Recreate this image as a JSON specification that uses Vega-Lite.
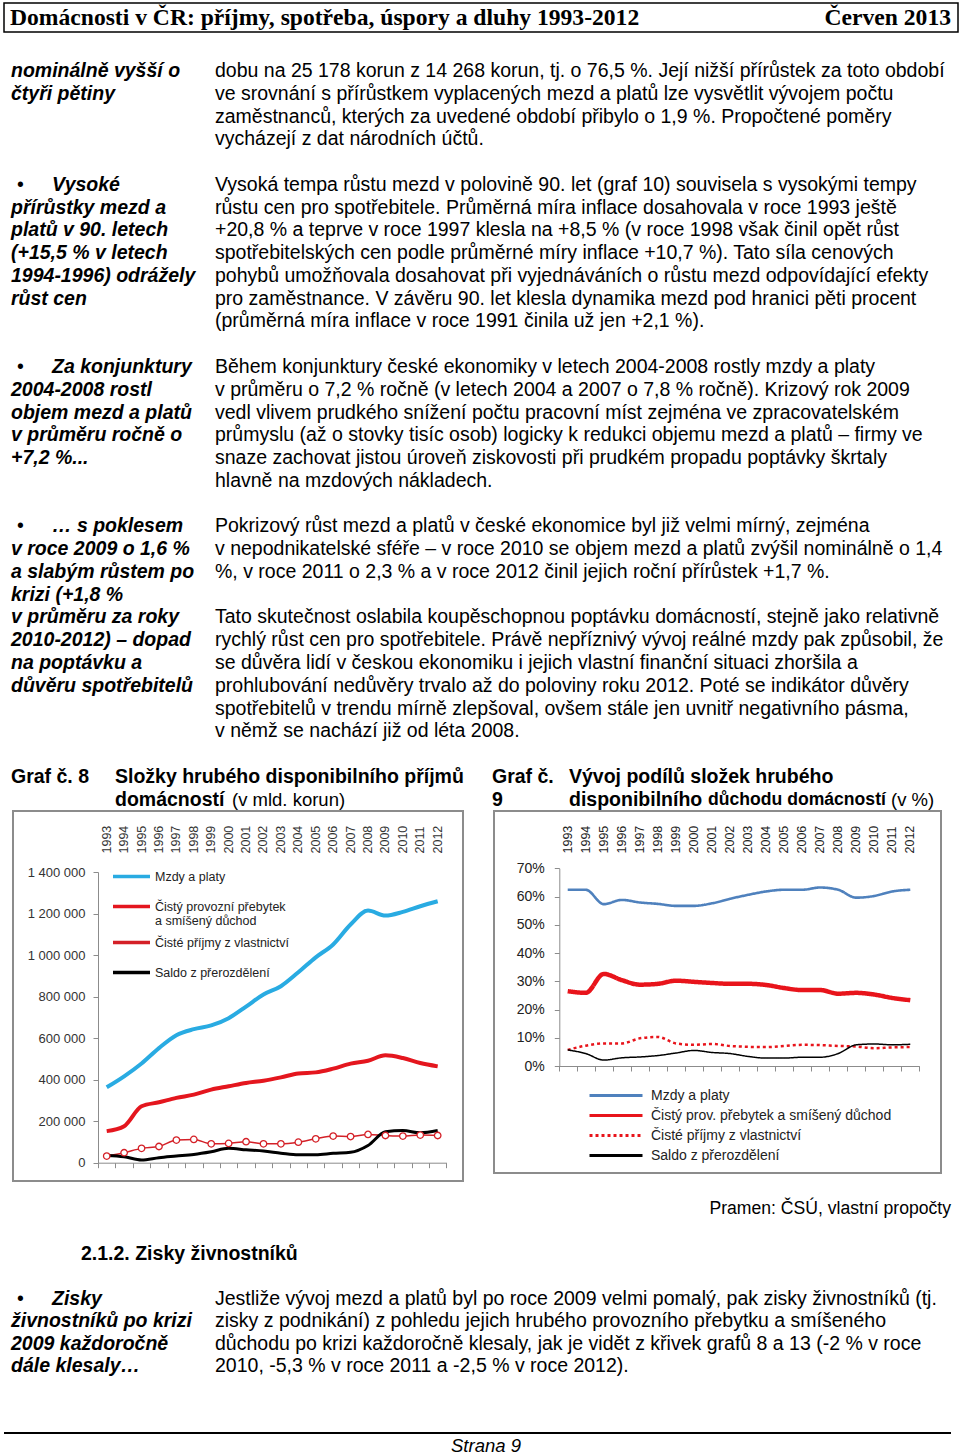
{
  "$schema": "https://vega.github.io/schema/vega-lite/v6.json",
  "background": "white",
  "padding": {"left": 3, "top": 2, "right": 0, "bottom": 0},
  "spacing": 0,
  "config": {
    "view": {"stroke": null},
    "font": "Liberation Sans"
  },
  "datasets": {
    "hdr": [
      {"role": "left", "text": "Domácnosti v ČR: příjmy, spotřeba, úspory a dluhy 1993-2012"},
      {"role": "right", "text": "Červen 2013"}
    ],
    "txt1": [
      {"role": "sidebar", "row": 0, "text": "nominálně vyšší o"},
      {"role": "sidebar", "row": 1, "text": "čtyři pětiny"},
      {"role": "bullet", "row": 5, "text": "•"},
      {"role": "bulletText", "row": 5, "text": "Vysoké"},
      {"role": "sidebar", "row": 6, "text": "přírůstky mezd a"},
      {"role": "sidebar", "row": 7, "text": "platů v 90. letech"},
      {"role": "sidebar", "row": 8, "text": "(+15,5 % v letech"},
      {"role": "sidebar", "row": 9, "text": "1994-1996) odrážely"},
      {"role": "sidebar", "row": 10, "text": "růst cen"},
      {"role": "bullet", "row": 13, "text": "•"},
      {"role": "bulletText", "row": 13, "text": "Za konjunktury"},
      {"role": "sidebar", "row": 14, "text": "2004-2008 rostl"},
      {"role": "sidebar", "row": 15, "text": "objem mezd a platů"},
      {"role": "sidebar", "row": 16, "text": "v průměru ročně o"},
      {"role": "sidebar", "row": 17, "text": "+7,2 %..."},
      {"role": "bullet", "row": 20, "text": "•"},
      {"role": "bulletText", "row": 20, "text": "… s poklesem"},
      {"role": "sidebar", "row": 21, "text": "v roce 2009 o 1,6 %"},
      {"role": "sidebar", "row": 22, "text": "a slabým růstem po"},
      {"role": "sidebar", "row": 23, "text": "krizi (+1,8 %"},
      {"role": "sidebar", "row": 24, "text": "v průměru za roky"},
      {"role": "sidebar", "row": 25, "text": "2010-2012) – dopad"},
      {"role": "sidebar", "row": 26, "text": "na poptávku a"},
      {"role": "sidebar", "row": 27, "text": "důvěru spotřebitelů"},
      {"role": "body", "row": 0, "text": "dobu na 25 178 korun z 14 268 korun, tj. o 76,5 %. Její nižší přírůstek za toto období"},
      {"role": "body", "row": 1, "text": "ve srovnání s přírůstkem vyplacených mezd a platů lze vysvětlit vývojem počtu"},
      {"role": "body", "row": 2, "text": "zaměstnanců, kterých za uvedené období přibylo o 1,9 %. Propočtené poměry"},
      {"role": "body", "row": 3, "text": "vycházejí z dat národních účtů."},
      {"role": "body", "row": 5, "text": "Vysoká tempa růstu mezd v polovině 90. let (graf 10) souvisela s vysokými tempy"},
      {"role": "body", "row": 6, "text": "růstu cen pro spotřebitele. Průměrná míra inflace dosahovala v roce 1993 ještě"},
      {"role": "body", "row": 7, "text": "+20,8 % a teprve v roce 1997 klesla na +8,5 % (v roce 1998 však činil opět růst"},
      {"role": "body", "row": 8, "text": "spotřebitelských cen podle průměrné míry inflace +10,7 %). Tato síla cenových"},
      {"role": "body", "row": 9, "text": "pohybů umožňovala dosahovat při vyjednáváních o růstu mezd odpovídající efekty"},
      {"role": "body", "row": 10, "text": "pro zaměstnance. V závěru 90. let klesla dynamika mezd pod hranici pěti procent"},
      {"role": "body", "row": 11, "text": "(průměrná míra inflace v roce 1991 činila už jen +2,1 %)."},
      {"role": "body", "row": 13, "text": "Během konjunktury české ekonomiky v letech 2004-2008 rostly mzdy a platy"},
      {"role": "body", "row": 14, "text": "v průměru o 7,2 % ročně (v letech 2004 a 2007 o 7,8 % ročně). Krizový rok 2009"},
      {"role": "body", "row": 15, "text": "vedl vlivem prudkého snížení počtu pracovní míst zejména ve zpracovatelském"},
      {"role": "body", "row": 16, "text": "průmyslu (až o stovky tisíc osob) logicky k redukci objemu mezd a platů – firmy ve"},
      {"role": "body", "row": 17, "text": "snaze zachovat jistou úroveň ziskovosti při prudkém propadu poptávky škrtaly"},
      {"role": "body", "row": 18, "text": "hlavně na mzdových nákladech."},
      {"role": "body", "row": 20, "text": "Pokrizový růst mezd a platů v české ekonomice byl již velmi mírný, zejména"},
      {"role": "body", "row": 21, "text": "v nepodnikatelské sféře – v roce 2010 se objem mezd a platů zvýšil nominálně o 1,4"},
      {"role": "body", "row": 22, "text": "%, v roce 2011 o 2,3 % a v roce 2012 činil jejich roční přírůstek +1,7 %."},
      {"role": "body", "row": 24, "text": "Tato skutečnost oslabila koupěschopnou poptávku domácností, stejně jako relativně"},
      {"role": "body", "row": 25, "text": "rychlý růst cen pro spotřebitele. Právě nepříznivý vývoj reálné mzdy pak způsobil, že"},
      {"role": "body", "row": 26, "text": "se důvěra lidí v českou ekonomiku i jejich vlastní finanční situaci zhoršila a"},
      {"role": "body", "row": 27, "text": "prohlubování nedůvěry trvalo až do poloviny roku 2012. Poté se indikátor důvěry"},
      {"role": "body", "row": 28, "text": "spotřebitelů v trendu mírně zlepšoval, ovšem stále jen uvnitř negativního pásma,"},
      {"role": "body", "row": 29, "text": "v němž se nachází již od léta 2008."},
      {"role": "graf8", "row": 31, "text": "Graf č. 8"},
      {"role": "title8", "row": 31, "text": "Složky hrubého disponibilního příjmů"},
      {"role": "title8", "row": 32, "text": "domácností"},
      {"role": "paren8", "row": 32, "text": "(v mld. korun)"},
      {"role": "graf9", "row": 31, "text": "Graf č."},
      {"role": "graf9", "row": 32, "text": "9"},
      {"role": "title9", "row": 31, "text": "Vývoj podílů složek hrubého"},
      {"role": "title9", "row": 32, "text": "disponibilního"},
      {"role": "title9b", "row": 32, "text": "důchodu domácností"},
      {"role": "paren9", "row": 32, "text": "(v %)"}
    ],
    "txt2": [
      {"role": "source", "row": 0, "text": "Pramen: ČSÚ, vlastní propočty"},
      {"role": "heading", "row": 2, "text": "2.1.2. Zisky živnostníků"},
      {"role": "bullet", "row": 4, "text": "•"},
      {"role": "bulletText", "row": 4, "text": "Zisky"},
      {"role": "sidebar", "row": 5, "text": "živnostníků po krizi"},
      {"role": "sidebar", "row": 6, "text": "2009 každoročně"},
      {"role": "sidebar", "row": 7, "text": "dále klesaly…"},
      {"role": "body", "row": 4, "text": "Jestliže vývoj mezd a platů byl po roce 2009 velmi pomalý, pak zisky živnostníků (tj."},
      {"role": "body", "row": 5, "text": "zisky z podnikání) z pohledu jejich hrubého provozního přebytku a smíšeného"},
      {"role": "body", "row": 6, "text": "důchodu po krizi každoročně klesaly, jak je vidět z křivek grafů 8 a 13 (-2 % v roce"},
      {"role": "body", "row": 7, "text": "2010, -5,3 % v roce 2011 a -2,5 % v roce 2012)."}
    ],
    "ftr": [
      {"role": "rule", "row": 0, "text": ""},
      {"role": "page", "row": 1, "text": "Strana 9"}
    ],
    "g8": [
      {"rok": "1993", "slozka": "Mzdy a platy", "hodnota": 363000},
      {"rok": "1994", "slozka": "Mzdy a platy", "hodnota": 416000},
      {"rok": "1995", "slozka": "Mzdy a platy", "hodnota": 478000},
      {"rok": "1996", "slozka": "Mzdy a platy", "hodnota": 552000},
      {"rok": "1997", "slozka": "Mzdy a platy", "hodnota": 614000},
      {"rok": "1998", "slozka": "Mzdy a platy", "hodnota": 643000},
      {"rok": "1999", "slozka": "Mzdy a platy", "hodnota": 661000},
      {"rok": "2000", "slozka": "Mzdy a platy", "hodnota": 696000},
      {"rok": "2001", "slozka": "Mzdy a platy", "hodnota": 752000},
      {"rok": "2002", "slozka": "Mzdy a platy", "hodnota": 810000},
      {"rok": "2003", "slozka": "Mzdy a platy", "hodnota": 850000},
      {"rok": "2004", "slozka": "Mzdy a platy", "hodnota": 917000},
      {"rok": "2005", "slozka": "Mzdy a platy", "hodnota": 989000},
      {"rok": "2006", "slozka": "Mzdy a platy", "hodnota": 1051000},
      {"rok": "2007", "slozka": "Mzdy a platy", "hodnota": 1147000},
      {"rok": "2008", "slozka": "Mzdy a platy", "hodnota": 1214000},
      {"rok": "2009", "slozka": "Mzdy a platy", "hodnota": 1190000},
      {"rok": "2010", "slozka": "Mzdy a platy", "hodnota": 1208000},
      {"rok": "2011", "slozka": "Mzdy a platy", "hodnota": 1235000},
      {"rok": "2012", "slozka": "Mzdy a platy", "hodnota": 1259000},
      {"rok": "1993", "slozka": "Čistý provozní přebytek a smíšený důchod", "hodnota": 152000},
      {"rok": "1994", "slozka": "Čistý provozní přebytek a smíšený důchod", "hodnota": 176000},
      {"rok": "1995", "slozka": "Čistý provozní přebytek a smíšený důchod", "hodnota": 272000},
      {"rok": "1996", "slozka": "Čistý provozní přebytek a smíšený důchod", "hodnota": 291000},
      {"rok": "1997", "slozka": "Čistý provozní přebytek a smíšený důchod", "hodnota": 312000},
      {"rok": "1998", "slozka": "Čistý provozní přebytek a smíšený důchod", "hodnota": 328000},
      {"rok": "1999", "slozka": "Čistý provozní přebytek a smíšený důchod", "hodnota": 352000},
      {"rok": "2000", "slozka": "Čistý provozní přebytek a smíšený důchod", "hodnota": 368000},
      {"rok": "2001", "slozka": "Čistý provozní přebytek a smíšený důchod", "hodnota": 384000},
      {"rok": "2002", "slozka": "Čistý provozní přebytek a smíšený důchod", "hodnota": 395000},
      {"rok": "2003", "slozka": "Čistý provozní přebytek a smíšený důchod", "hodnota": 411000},
      {"rok": "2004", "slozka": "Čistý provozní přebytek a smíšený důchod", "hodnota": 430000},
      {"rok": "2005", "slozka": "Čistý provozní přebytek a smíšený důchod", "hodnota": 435000},
      {"rok": "2006", "slozka": "Čistý provozní přebytek a smíšený důchod", "hodnota": 453000},
      {"rok": "2007", "slozka": "Čistý provozní přebytek a smíšený důchod", "hodnota": 477000},
      {"rok": "2008", "slozka": "Čistý provozní přebytek a smíšený důchod", "hodnota": 491000},
      {"rok": "2009", "slozka": "Čistý provozní přebytek a smíšený důchod", "hodnota": 517000},
      {"rok": "2010", "slozka": "Čistý provozní přebytek a smíšený důchod", "hodnota": 504000},
      {"rok": "2011", "slozka": "Čistý provozní přebytek a smíšený důchod", "hodnota": 480000},
      {"rok": "2012", "slozka": "Čistý provozní přebytek a smíšený důchod", "hodnota": 464000},
      {"rok": "1993", "slozka": "Čisté příjmy z vlastnictví", "hodnota": 32000},
      {"rok": "1994", "slozka": "Čisté příjmy z vlastnictví", "hodnota": 48000},
      {"rok": "1995", "slozka": "Čisté příjmy z vlastnictví", "hodnota": 69000},
      {"rok": "1996", "slozka": "Čisté příjmy z vlastnictví", "hodnota": 78000},
      {"rok": "1997", "slozka": "Čisté příjmy z vlastnictví", "hodnota": 109000},
      {"rok": "1998", "slozka": "Čisté příjmy z vlastnictví", "hodnota": 112000},
      {"rok": "1999", "slozka": "Čisté příjmy z vlastnictví", "hodnota": 91000},
      {"rok": "2000", "slozka": "Čisté příjmy z vlastnictví", "hodnota": 93000},
      {"rok": "2001", "slozka": "Čisté příjmy z vlastnictví", "hodnota": 101000},
      {"rok": "2002", "slozka": "Čisté příjmy z vlastnictví", "hodnota": 91000},
      {"rok": "2003", "slozka": "Čisté příjmy z vlastnictví", "hodnota": 91000},
      {"rok": "2004", "slozka": "Čisté příjmy z vlastnictví", "hodnota": 99000},
      {"rok": "2005", "slozka": "Čisté příjmy z vlastnictví", "hodnota": 115000},
      {"rok": "2006", "slozka": "Čisté příjmy z vlastnictví", "hodnota": 128000},
      {"rok": "2007", "slozka": "Čisté příjmy z vlastnictví", "hodnota": 126000},
      {"rok": "2008", "slozka": "Čisté příjmy z vlastnictví", "hodnota": 136000},
      {"rok": "2009", "slozka": "Čisté příjmy z vlastnictví", "hodnota": 131000},
      {"rok": "2010", "slozka": "Čisté příjmy z vlastnictví", "hodnota": 128000},
      {"rok": "2011", "slozka": "Čisté příjmy z vlastnictví", "hodnota": 133000},
      {"rok": "2012", "slozka": "Čisté příjmy z vlastnictví", "hodnota": 131000},
      {"rok": "1993", "slozka": "Saldo z přerozdělení", "hodnota": 35000},
      {"rok": "1994", "slozka": "Saldo z přerozdělení", "hodnota": 29000},
      {"rok": "1995", "slozka": "Saldo z přerozdělení", "hodnota": 13000},
      {"rok": "1996", "slozka": "Saldo z přerozdělení", "hodnota": 24000},
      {"rok": "1997", "slozka": "Saldo z přerozdělení", "hodnota": 32000},
      {"rok": "1998", "slozka": "Saldo z přerozdělení", "hodnota": 40000},
      {"rok": "1999", "slozka": "Saldo z přerozdělení", "hodnota": 53000},
      {"rok": "2000", "slozka": "Saldo z přerozdělení", "hodnota": 69000},
      {"rok": "2001", "slozka": "Saldo z přerozdělení", "hodnota": 62000},
      {"rok": "2002", "slozka": "Saldo z přerozdělení", "hodnota": 56000},
      {"rok": "2003", "slozka": "Saldo z přerozdělení", "hodnota": 46000},
      {"rok": "2004", "slozka": "Saldo z přerozdělení", "hodnota": 38000},
      {"rok": "2005", "slozka": "Saldo z přerozdělení", "hodnota": 38000},
      {"rok": "2006", "slozka": "Saldo z přerozdělení", "hodnota": 45000},
      {"rok": "2007", "slozka": "Saldo z přerozdělení", "hodnota": 50000},
      {"rok": "2008", "slozka": "Saldo z přerozdělení", "hodnota": 83000},
      {"rok": "2009", "slozka": "Saldo z přerozdělení", "hodnota": 149000},
      {"rok": "2010", "slozka": "Saldo z přerozdělení", "hodnota": 155000},
      {"rok": "2011", "slozka": "Saldo z přerozdělení", "hodnota": 144000},
      {"rok": "2012", "slozka": "Saldo z přerozdělení", "hodnota": 155000}
    ],
    "g9": [
      {"rok": "1993", "slozka": "Mzdy a platy", "hodnota": 62.4},
      {"rok": "1994", "slozka": "Mzdy a platy", "hodnota": 62.4},
      {"rok": "1995", "slozka": "Mzdy a platy", "hodnota": 57.3},
      {"rok": "1996", "slozka": "Mzdy a platy", "hodnota": 58.8},
      {"rok": "1997", "slozka": "Mzdy a platy", "hodnota": 57.9},
      {"rok": "1998", "slozka": "Mzdy a platy", "hodnota": 57.4},
      {"rok": "1999", "slozka": "Mzdy a platy", "hodnota": 56.7},
      {"rok": "2000", "slozka": "Mzdy a platy", "hodnota": 56.7},
      {"rok": "2001", "slozka": "Mzdy a platy", "hodnota": 57.6},
      {"rok": "2002", "slozka": "Mzdy a platy", "hodnota": 59.2},
      {"rok": "2003", "slozka": "Mzdy a platy", "hodnota": 60.6},
      {"rok": "2004", "slozka": "Mzdy a platy", "hodnota": 61.8},
      {"rok": "2005", "slozka": "Mzdy a platy", "hodnota": 62.4},
      {"rok": "2006", "slozka": "Mzdy a platy", "hodnota": 62.4},
      {"rok": "2007", "slozka": "Mzdy a platy", "hodnota": 63.2},
      {"rok": "2008", "slozka": "Mzdy a platy", "hodnota": 62.4},
      {"rok": "2009", "slozka": "Mzdy a platy", "hodnota": 59.6},
      {"rok": "2010", "slozka": "Mzdy a platy", "hodnota": 60.2},
      {"rok": "2011", "slozka": "Mzdy a platy", "hodnota": 61.8},
      {"rok": "2012", "slozka": "Mzdy a platy", "hodnota": 62.4},
      {"rok": "1993", "slozka": "Čistý prov. přebytek a smíšený důchod", "hodnota": 26.5},
      {"rok": "1994", "slozka": "Čistý prov. přebytek a smíšený důchod", "hodnota": 25.9},
      {"rok": "1995", "slozka": "Čistý prov. přebytek a smíšený důchod", "hodnota": 32.6},
      {"rok": "1996", "slozka": "Čistý prov. přebytek a smíšený důchod", "hodnota": 30.4},
      {"rok": "1997", "slozka": "Čistý prov. přebytek a smíšený důchod", "hodnota": 28.8},
      {"rok": "1998", "slozka": "Čistý prov. přebytek a smíšený důchod", "hodnota": 29.1},
      {"rok": "1999", "slozka": "Čistý prov. přebytek a smíšený důchod", "hodnota": 30.2},
      {"rok": "2000", "slozka": "Čistý prov. přebytek a smíšený důchod", "hodnota": 29.8},
      {"rok": "2001", "slozka": "Čistý prov. přebytek a smíšený důchod", "hodnota": 29.4},
      {"rok": "2002", "slozka": "Čistý prov. přebytek a smíšený důchod", "hodnota": 29.1},
      {"rok": "2003", "slozka": "Čistý prov. přebytek a smíšený důchod", "hodnota": 29.1},
      {"rok": "2004", "slozka": "Čistý prov. přebytek a smíšený důchod", "hodnota": 28.7},
      {"rok": "2005", "slozka": "Čistý prov. přebytek a smíšený důchod", "hodnota": 27.6},
      {"rok": "2006", "slozka": "Čistý prov. přebytek a smíšený důchod", "hodnota": 26.9},
      {"rok": "2007", "slozka": "Čistý prov. přebytek a smíšený důchod", "hodnota": 26.9},
      {"rok": "2008", "slozka": "Čistý prov. přebytek a smíšený důchod", "hodnota": 25.6},
      {"rok": "2009", "slozka": "Čistý prov. přebytek a smíšený důchod", "hodnota": 25.9},
      {"rok": "2010", "slozka": "Čistý prov. přebytek a smíšený důchod", "hodnota": 25.3},
      {"rok": "2011", "slozka": "Čistý prov. přebytek a smíšený důchod", "hodnota": 24.1},
      {"rok": "2012", "slozka": "Čistý prov. přebytek a smíšený důchod", "hodnota": 23.3},
      {"rok": "1993", "slozka": "Čisté příjmy z vlastnictví", "hodnota": 5.7},
      {"rok": "1994", "slozka": "Čisté příjmy z vlastnictví", "hodnota": 7.2},
      {"rok": "1995", "slozka": "Čisté příjmy z vlastnictví", "hodnota": 8.0},
      {"rok": "1996", "slozka": "Čisté příjmy z vlastnictví", "hodnota": 8.0},
      {"rok": "1997", "slozka": "Čisté příjmy z vlastnictví", "hodnota": 9.8},
      {"rok": "1998", "slozka": "Čisté příjmy z vlastnictví", "hodnota": 10.3},
      {"rok": "1999", "slozka": "Čisté příjmy z vlastnictví", "hodnota": 8.0},
      {"rok": "2000", "slozka": "Čisté příjmy z vlastnictví", "hodnota": 7.5},
      {"rok": "2001", "slozka": "Čisté příjmy z vlastnictví", "hodnota": 7.8},
      {"rok": "2002", "slozka": "Čisté příjmy z vlastnictví", "hodnota": 7.1},
      {"rok": "2003", "slozka": "Čisté příjmy z vlastnictví", "hodnota": 6.8},
      {"rok": "2004", "slozka": "Čisté příjmy z vlastnictví", "hodnota": 6.7},
      {"rok": "2005", "slozka": "Čisté příjmy z vlastnictví", "hodnota": 7.1},
      {"rok": "2006", "slozka": "Čisté příjmy z vlastnictví", "hodnota": 7.5},
      {"rok": "2007", "slozka": "Čisté příjmy z vlastnictví", "hodnota": 7.4},
      {"rok": "2008", "slozka": "Čisté příjmy z vlastnictví", "hodnota": 7.1},
      {"rok": "2009", "slozka": "Čisté příjmy z vlastnictví", "hodnota": 6.9},
      {"rok": "2010", "slozka": "Čisté příjmy z vlastnictví", "hodnota": 6.3},
      {"rok": "2011", "slozka": "Čisté příjmy z vlastnictví", "hodnota": 6.6},
      {"rok": "2012", "slozka": "Čisté příjmy z vlastnictví", "hodnota": 6.7},
      {"rok": "1993", "slozka": "Saldo z přerozdělení", "hodnota": 5.7},
      {"rok": "1994", "slozka": "Saldo z přerozdělení", "hodnota": 4.4},
      {"rok": "1995", "slozka": "Saldo z přerozdělení", "hodnota": 2.1},
      {"rok": "1996", "slozka": "Saldo z přerozdělení", "hodnota": 2.9},
      {"rok": "1997", "slozka": "Saldo z přerozdělení", "hodnota": 3.2},
      {"rok": "1998", "slozka": "Saldo z přerozdělení", "hodnota": 3.7},
      {"rok": "1999", "slozka": "Saldo z přerozdělení", "hodnota": 4.6},
      {"rok": "2000", "slozka": "Saldo z přerozdělení", "hodnota": 5.5},
      {"rok": "2001", "slozka": "Saldo z přerozdělení", "hodnota": 4.8},
      {"rok": "2002", "slozka": "Saldo z přerozdělení", "hodnota": 4.4},
      {"rok": "2003", "slozka": "Saldo z přerozdělení", "hodnota": 3.4},
      {"rok": "2004", "slozka": "Saldo z přerozdělení", "hodnota": 2.8},
      {"rok": "2005", "slozka": "Saldo z přerozdělení", "hodnota": 2.8},
      {"rok": "2006", "slozka": "Saldo z přerozdělení", "hodnota": 3.1},
      {"rok": "2007", "slozka": "Saldo z přerozdělení", "hodnota": 3.1},
      {"rok": "2008", "slozka": "Saldo z přerozdělení", "hodnota": 4.4},
      {"rok": "2009", "slozka": "Saldo z přerozdělení", "hodnota": 7.5},
      {"rok": "2010", "slozka": "Saldo z přerozdělení", "hodnota": 7.8},
      {"rok": "2011", "slozka": "Saldo z přerozdělení", "hodnota": 7.5},
      {"rok": "2012", "slozka": "Saldo z přerozdělení", "hodnota": 7.7}
    ]
  },
  "vconcat": [
    {
      "width": 954,
      "height": 29,
      "view": {"stroke": "#000000", "strokeWidth": 1.5},
      "data": {"name": "hdr"},
      "layer": [
        {
          "transform": [{"filter": "datum.role == 'left'"}],
          "mark": {"type": "text", "align": "left", "baseline": "middle", "font": "Liberation Serif", "fontSize": 23.6, "fontWeight": "bold", "color": "#000"},
          "encoding": {
            "x": {"field": "role", "type": "nominal", "scale": {"type": "point", "domain": ["left", "right"], "range": [6, 947], "padding": 0}, "axis": null},
            "text": {"field": "text"}
          }
        },
        {
          "transform": [{"filter": "datum.role == 'right'"}],
          "mark": {"type": "text", "align": "right", "baseline": "middle", "font": "Liberation Serif", "fontSize": 23.6, "fontWeight": "bold", "color": "#000"},
          "encoding": {
            "x": {"field": "role", "type": "nominal", "scale": {"type": "point", "domain": ["left", "right"], "range": [6, 947], "padding": 0}, "axis": null},
            "text": {"field": "text"}
          }
        }
      ]
    },
    {
      "width": 957,
      "height": 777,
      "data": {"name": "txt1"},
      "resolve": {"scale": {"x": "independent"}},
      "layer": [
        {
          "transform": [{"filter": "datum.role == 'body'"}],
          "mark": {"type": "text", "align": "left", "baseline": "middle", "font": "Liberation Sans", "fontSize": 19.5, "color": "#000"},
          "encoding": {
            "x": {"field": "role", "type": "nominal", "scale": {"type": "point", "domain": ["body", "bodyEnd"], "range": [211, 947], "padding": 0}, "axis": null},
            "y": {"field": "row", "type": "quantitative", "scale": {"domain": [0, 32], "range": [38, 766.6]}, "axis": null},
            "text": {"field": "text"}
          }
        },
        {
          "transform": [{"filter": {"field": "role", "oneOf": ["sidebar", "bulletText"]}}],
          "mark": {"type": "text", "align": "left", "baseline": "middle", "font": "Liberation Sans", "fontSize": 19.5, "fontWeight": "bold", "fontStyle": "italic", "color": "#000"},
          "encoding": {
            "x": {"field": "role", "type": "nominal", "scale": {"type": "point", "domain": ["sidebar", "bulletText"], "range": [7, 48], "padding": 0}, "axis": null},
            "y": {"field": "row", "type": "quantitative", "scale": {"domain": [0, 32], "range": [38, 766.6]}, "axis": null},
            "text": {"field": "text"}
          }
        },
        {
          "transform": [{"filter": "datum.role == 'bullet'"}],
          "mark": {"type": "text", "align": "left", "baseline": "middle", "font": "Liberation Sans", "fontSize": 19.5, "color": "#000"},
          "encoding": {
            "x": {"field": "role", "type": "nominal", "scale": {"type": "point", "domain": ["bullet", "bulletEnd"], "range": [13, 48], "padding": 0}, "axis": null},
            "y": {"field": "row", "type": "quantitative", "scale": {"domain": [0, 32], "range": [38, 766.6]}, "axis": null},
            "text": {"field": "text"}
          }
        },
        {
          "transform": [{"filter": {"field": "role", "oneOf": ["graf8", "graf9"]}}],
          "mark": {"type": "text", "align": "left", "baseline": "middle", "font": "Liberation Sans", "fontSize": 19.5, "fontWeight": "bold", "color": "#000"},
          "encoding": {
            "x": {"field": "role", "type": "nominal", "scale": {"type": "point", "domain": ["graf8", "graf9"], "range": [7, 488], "padding": 0}, "axis": null},
            "y": {"field": "row", "type": "quantitative", "scale": {"domain": [0, 32], "range": [38, 766.6]}, "axis": null},
            "text": {"field": "text"}
          }
        },
        {
          "transform": [{"filter": {"field": "role", "oneOf": ["title8", "title9"]}}],
          "mark": {"type": "text", "align": "left", "baseline": "middle", "font": "Liberation Sans", "fontSize": 19.5, "fontWeight": "bold", "color": "#000"},
          "encoding": {
            "x": {"field": "role", "type": "nominal", "scale": {"type": "point", "domain": ["title8", "title9"], "range": [111, 565], "padding": 0}, "axis": null},
            "y": {"field": "row", "type": "quantitative", "scale": {"domain": [0, 32], "range": [38, 766.6]}, "axis": null},
            "text": {"field": "text"}
          }
        },
        {
          "transform": [{"filter": "datum.role == 'title9b'"}],
          "mark": {"type": "text", "align": "left", "baseline": "middle", "font": "Liberation Sans", "fontSize": 17.6, "fontWeight": "bold", "color": "#000"},
          "encoding": {
            "x": {"field": "role", "type": "nominal", "scale": {"type": "point", "domain": ["title9b", "title9bEnd"], "range": [704, 947], "padding": 0}, "axis": null},
            "y": {"field": "row", "type": "quantitative", "scale": {"domain": [0, 32], "range": [38, 766.6]}, "axis": null},
            "text": {"field": "text"}
          }
        },
        {
          "transform": [{"filter": {"field": "role", "oneOf": ["paren8", "paren9"]}}],
          "mark": {"type": "text", "align": "left", "baseline": "middle", "font": "Liberation Sans", "fontSize": 18.5, "color": "#000"},
          "encoding": {
            "x": {"field": "role", "type": "nominal", "scale": {"type": "point", "domain": ["paren8", "paren9"], "range": [228, 887], "padding": 0}, "axis": null},
            "y": {"field": "row", "type": "quantitative", "scale": {"domain": [0, 32], "range": [38, 766.6]}, "axis": null},
            "text": {"field": "text"}
          }
        }
      ]
    },
    {
      "bounds": "flush",
      "spacing": 0,
      "resolve": {"scale": {"color": "independent", "strokeDash": "independent"}, "legend": {"color": "independent", "strokeDash": "independent"}},
      "hconcat": [
        {
          "width": 9,
          "height": 10,
          "data": {"values": [{"t": " "}]},
          "mark": {"type": "text", "opacity": 0},
          "encoding": {"text": {"field": "t"}}
        },
        {
          "width": 450,
          "height": 370,
          "view": {"stroke": "#8c8c8c", "strokeWidth": 2},
          "data": {"name": "g8"},
          "resolve": {"axis": {"x": "independent"}},
          "layer": [
            {
              "mark": {"type": "line", "interpolate": "monotone"},
              "encoding": {
                "x": {
                  "field": "rok", "type": "ordinal", "bandPosition": 0.5,
                  "scale": {"type": "band", "paddingInner": 0, "paddingOuter": 0, "range": [85, 433.4]},
                  "axis": {"orient": "bottom", "offset": -18.3, "labels": false, "tickBand": "extent", "tickSize": 5, "domainColor": "#8c8c8c", "tickColor": "#8c8c8c", "title": null, "grid": false}
                },
                "y": {
                  "field": "hodnota", "type": "quantitative",
                  "scale": {"domain": [0, 1400000], "range": [351.7, 61], "nice": false},
                  "axis": {"orient": "left", "offset": -85, "values": [0, 200000, 400000, 600000, 800000, 1000000, 1200000, 1400000], "labelExpr": "replace(format(datum.value, ','), regexp(',', 'g'), ' ')", "title": null, "grid": false, "tickSize": 5, "labelPadding": 8, "labelFontSize": 13, "labelColor": "#333333", "labelFont": "Liberation Sans", "domainColor": "#8c8c8c", "tickColor": "#8c8c8c"}
                },
                "color": {
                  "field": "slozka", "type": "nominal",
                  "scale": {"domain": ["Mzdy a platy", "Čistý provozní přebytek a smíšený důchod", "Čisté příjmy z vlastnictví", "Saldo z přerozdělení"], "range": ["#29abe2", "#e4161e", "#d42027", "#000000"]},
                  "legend": {"orient": "none", "legendX": 98, "legendY": 50.5, "title": null, "symbolType": "stroke", "symbolSize": 1369, "symbolStrokeWidth": 3.5, "clipHeight": 30, "labelFontSize": 12.5, "labelColor": "#222222", "labelFont": "Liberation Sans", "labelOffset": 3, "rowPadding": 0, "labelLimit": 300, "labelExpr": "datum.label == 'Čistý provozní přebytek a smíšený důchod' ? ['Čistý provozní přebytek', 'a smíšený důchod'] : datum.label"}
                },
                "strokeWidth": {
                  "condition": [
                    {"test": "datum.slozka == 'Čisté příjmy z vlastnictví'", "value": 1.5},
                    {"test": "datum.slozka == 'Saldo z přerozdělení'", "value": 3}
                  ],
                  "value": 4
                }
              }
            },
            {
              "transform": [{"filter": "datum.slozka == 'Čisté příjmy z vlastnictví'"}],
              "mark": {"type": "point", "filled": true, "fill": "#ffffff", "stroke": "#d42027", "strokeWidth": 1.3, "size": 42, "opacity": 1},
              "encoding": {
                "x": {
                  "field": "rok", "type": "ordinal", "bandPosition": 0.5,
                  "scale": {"type": "band", "paddingInner": 0, "paddingOuter": 0, "range": [85, 433.4]},
                  "axis": {"orient": "top", "offset": -44, "labelAngle": -90, "labelAlign": "left", "labelBaseline": "middle", "labelPadding": 2, "ticks": false, "domain": false, "title": null, "grid": false, "labelFontSize": 12.5, "labelColor": "#333333", "labelFont": "Liberation Sans"}
                },
                "y": {"field": "hodnota", "type": "quantitative", "scale": {"domain": [0, 1400000], "range": [351.7, 61], "nice": false}}
              }
            }
          ]
        },
        {
          "width": 31,
          "height": 10,
          "data": {"values": [{"t": " "}]},
          "mark": {"type": "text", "opacity": 0},
          "encoding": {"text": {"field": "t"}}
        },
        {
          "width": 447,
          "height": 362,
          "view": {"stroke": "#8c8c8c", "strokeWidth": 2},
          "data": {"name": "g9"},
          "resolve": {"axis": {"x": "independent"}},
          "layer": [
            {
              "mark": {"type": "line", "interpolate": "monotone"},
              "encoding": {
                "x": {
                  "field": "rok", "type": "ordinal", "bandPosition": 0.5,
                  "scale": {"type": "band", "paddingInner": 0, "paddingOuter": 0, "range": [64.7, 425.3]},
                  "axis": {"orient": "bottom", "offset": -107, "labels": false, "tickBand": "extent", "tickSize": 5, "domainColor": "#8c8c8c", "tickColor": "#8c8c8c", "title": null, "grid": false}
                },
                "y": {
                  "field": "hodnota", "type": "quantitative",
                  "scale": {"domain": [0, 70], "range": [255, 57.3], "nice": false},
                  "axis": {"orient": "left", "offset": -65.3, "values": [0, 10, 20, 30, 40, 50, 60, 70], "labelExpr": "datum.value + '%'", "title": null, "grid": false, "tickSize": 5, "labelPadding": 10, "labelFontSize": 14, "labelColor": "#222222", "labelFont": "Liberation Sans", "domainColor": "#8c8c8c", "tickColor": "#8c8c8c"}
                },
                "color": {
                  "field": "slozka", "type": "nominal",
                  "scale": {"domain": ["Mzdy a platy", "Čistý prov. přebytek a smíšený důchod", "Čisté příjmy z vlastnictví", "Saldo z přerozdělení"], "range": ["#4f81bd", "#e8141b", "#e8141b", "#000000"]},
                  "legend": {"orient": "none", "legendX": 94, "legendY": 276, "title": null, "symbolType": "stroke", "symbolSize": 2809, "symbolStrokeWidth": 3, "clipHeight": 17, "labelFontSize": 14, "labelColor": "#222222", "labelFont": "Liberation Sans", "labelOffset": 7, "rowPadding": 3, "labelLimit": 400}
                },
                "strokeDash": {
                  "field": "slozka", "type": "nominal",
                  "scale": {"domain": ["Mzdy a platy", "Čistý prov. přebytek a smíšený důchod", "Čisté příjmy z vlastnictví", "Saldo z přerozdělení"], "range": [[1, 0], [1, 0], [3, 3], [1, 0]]},
                  "legend": {"orient": "none", "legendX": 94, "legendY": 276, "title": null, "symbolType": "stroke", "symbolSize": 2809, "symbolStrokeWidth": 3, "clipHeight": 17, "labelFontSize": 14, "labelColor": "#222222", "labelFont": "Liberation Sans", "labelOffset": 7, "rowPadding": 3, "labelLimit": 400}
                },
                "strokeWidth": {
                  "condition": [
                    {"test": "datum.slozka == 'Mzdy a platy'", "value": 2.6},
                    {"test": "datum.slozka == 'Saldo z přerozdělení'", "value": 1.5},
                    {"test": "datum.slozka == 'Čisté příjmy z vlastnictví'", "value": 2.5}
                  ],
                  "value": 4.5
                }
              }
            },
            {
              "transform": [{"filter": "datum.slozka == 'Mzdy a platy'"}],
              "mark": {"type": "point", "opacity": 0, "size": 1},
              "encoding": {
                "x": {
                  "field": "rok", "type": "ordinal", "bandPosition": 0.5,
                  "scale": {"type": "band", "paddingInner": 0, "paddingOuter": 0, "range": [64.7, 425.3]},
                  "axis": {"orient": "top", "offset": -44, "labelAngle": -90, "labelAlign": "left", "labelBaseline": "middle", "labelPadding": 2, "ticks": false, "domain": false, "title": null, "grid": false, "labelFontSize": 12.5, "labelColor": "#222222", "labelFont": "Liberation Sans"}
                },
                "y": {"field": "hodnota", "type": "quantitative", "scale": {"domain": [0, 70], "range": [255, 57.3], "nice": false}}
              }
            }
          ]
        }
      ]
    },
    {
      "width": 957,
      "height": 250,
      "data": {"name": "txt2"},
      "resolve": {"scale": {"x": "independent"}},
      "layer": [
        {
          "transform": [{"filter": "datum.role == 'source'"}],
          "mark": {"type": "text", "align": "right", "baseline": "middle", "font": "Liberation Sans", "fontSize": 17.6, "color": "#000"},
          "encoding": {
            "x": {"field": "role", "type": "nominal", "scale": {"type": "point", "domain": ["sourceStart", "source"], "range": [211, 947], "padding": 0}, "axis": null},
            "y": {"field": "row", "type": "quantitative", "scale": {"domain": [0, 7], "range": [26.5, 184]}, "axis": null},
            "text": {"field": "text"}
          }
        },
        {
          "transform": [{"filter": "datum.role == 'heading'"}],
          "mark": {"type": "text", "align": "left", "baseline": "middle", "font": "Liberation Sans", "fontSize": 19.5, "fontWeight": "bold", "color": "#000"},
          "encoding": {
            "x": {"field": "role", "type": "nominal", "scale": {"type": "point", "domain": ["heading", "headingEnd"], "range": [77, 400], "padding": 0}, "axis": null},
            "y": {"field": "row", "type": "quantitative", "scale": {"domain": [0, 7], "range": [26.5, 184]}, "axis": null},
            "text": {"field": "text"}
          }
        },
        {
          "transform": [{"filter": {"field": "role", "oneOf": ["sidebar", "bulletText"]}}],
          "mark": {"type": "text", "align": "left", "baseline": "middle", "font": "Liberation Sans", "fontSize": 19.5, "fontWeight": "bold", "fontStyle": "italic", "color": "#000"},
          "encoding": {
            "x": {"field": "role", "type": "nominal", "scale": {"type": "point", "domain": ["sidebar", "bulletText"], "range": [7, 48], "padding": 0}, "axis": null},
            "y": {"field": "row", "type": "quantitative", "scale": {"domain": [0, 7], "range": [26.5, 184]}, "axis": null},
            "text": {"field": "text"}
          }
        },
        {
          "transform": [{"filter": "datum.role == 'bullet'"}],
          "mark": {"type": "text", "align": "left", "baseline": "middle", "font": "Liberation Sans", "fontSize": 19.5, "color": "#000"},
          "encoding": {
            "x": {"field": "role", "type": "nominal", "scale": {"type": "point", "domain": ["bullet", "bulletEnd"], "range": [13, 48], "padding": 0}, "axis": null},
            "y": {"field": "row", "type": "quantitative", "scale": {"domain": [0, 7], "range": [26.5, 184]}, "axis": null},
            "text": {"field": "text"}
          }
        },
        {
          "transform": [{"filter": "datum.role == 'body'"}],
          "mark": {"type": "text", "align": "left", "baseline": "middle", "font": "Liberation Sans", "fontSize": 19.5, "color": "#000"},
          "encoding": {
            "x": {"field": "role", "type": "nominal", "scale": {"type": "point", "domain": ["body", "bodyEnd"], "range": [211, 947], "padding": 0}, "axis": null},
            "y": {"field": "row", "type": "quantitative", "scale": {"domain": [0, 7], "range": [26.5, 184]}, "axis": null},
            "text": {"field": "text"}
          }
        }
      ]
    },
    {
      "width": 947,
      "height": 22,
      "data": {"name": "ftr"},
      "resolve": {"scale": {"x": "independent"}},
      "layer": [
        {
          "transform": [{"filter": "datum.role == 'rule'"}],
          "mark": {"type": "rule", "color": "#000", "strokeWidth": 2},
          "encoding": {
            "y": {"field": "row", "type": "quantitative", "scale": {"domain": [0, 1], "range": [1, 13.5]}, "axis": null}
          }
        },
        {
          "transform": [{"filter": "datum.role == 'page'"}],
          "mark": {"type": "text", "align": "center", "baseline": "middle", "font": "Liberation Sans", "fontSize": 18.5, "fontStyle": "italic", "color": "#000"},
          "encoding": {
            "x": {"field": "role", "type": "nominal", "scale": {"type": "point", "domain": ["pageStart", "page"], "range": [0, 482], "padding": 0}, "axis": null},
            "y": {"field": "row", "type": "quantitative", "scale": {"domain": [0, 1], "range": [1, 13.5]}, "axis": null},
            "text": {"field": "text"}
          }
        }
      ]
    }
  ]
}
